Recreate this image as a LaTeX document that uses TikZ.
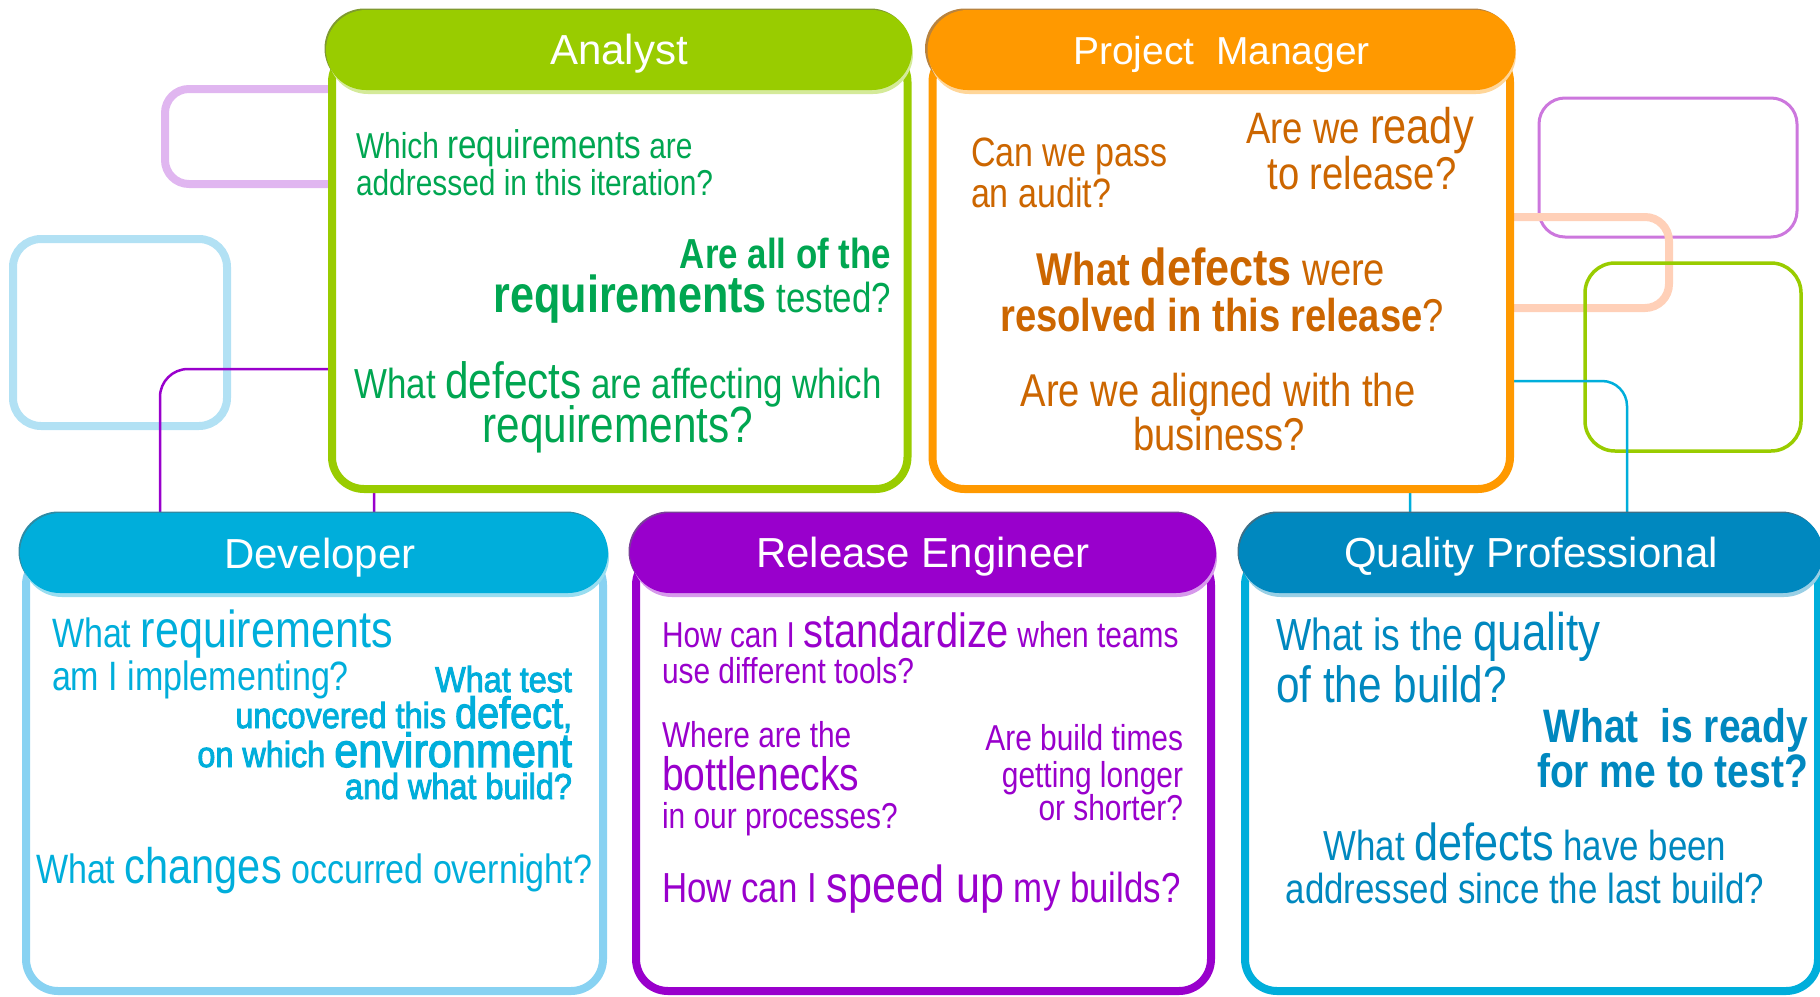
\documentclass[tikz,border=0pt]{standalone}
\usepackage{fontspec}
\setmainfont{Liberation Sans}
\newfontfamily\cnd[FakeStretch=0.83]{Liberation Sans}
\newfontfamily\cndsb[FakeStretch=0.9,FakeBold=2.5]{Liberation Sans}
\newcommand\fsz[1]{\fontsize{#1}{#1}\selectfont}
\definecolor{agreen}{HTML}{99CC00}
\definecolor{agreenD}{HTML}{7F9A30}
\definecolor{agreenL}{HTML}{D4EA99}
\definecolor{atext}{HTML}{00A651}
\definecolor{porange}{HTML}{FF9900}
\definecolor{porangeD}{HTML}{B8833F}
\definecolor{porangeL}{HTML}{FFD699}
\definecolor{ptext}{HTML}{CC6600}
\definecolor{dcyan}{HTML}{00AEDB}
\definecolor{dcyanD}{HTML}{2F8AA3}
\definecolor{dcyanL}{HTML}{99DDF0}
\definecolor{dborder}{HTML}{88D2F2}
\definecolor{rpurple}{HTML}{9900CC}
\definecolor{rpurpleD}{HTML}{7A3F99}
\definecolor{rpurpleL}{HTML}{D699EB}
\definecolor{qblue}{HTML}{0088BF}
\definecolor{qblueD}{HTML}{3C6F87}
\definecolor{qblueL}{HTML}{99CFE5}
\definecolor{meshlav}{HTML}{E0B6F0}
\definecolor{meshblue}{HTML}{B2E1F4}
\definecolor{meshpeach}{HTML}{FFD0B8}
\definecolor{thinlav}{HTML}{CC77DD}
\tikzset{
  tl/.style={inner sep=0pt, outer sep=0pt, font=\cnd\fsz{#1}},
  hdr/.style={inner sep=0pt, outer sep=0pt, font=\fsz{42}, text=white,
    minimum height=80pt, rounded corners=40pt, text height=28pt, text depth=0pt},
  border/.style={line width=8pt, fill=white, rounded corners=32pt},
  meshline/.style={line width=8pt, rounded corners=24pt},
  thinline/.style={line width=3pt, rounded corners=26pt},
  linkline/.style={line width=2.5pt, rounded corners=28pt},
}
\begin{document}
\begin{tikzpicture}[x=1pt,y=-1pt]
\useasboundingbox (0,0) rectangle (1820,996);

% decorative background frames
\draw[meshline, draw=meshlav] (165,89) rectangle (420,184);
\draw[meshline, draw=meshblue, rounded corners=28pt] (13,239) rectangle (227,426);
\draw[thinline, draw=thinlav] (1539,98) rectangle (1797,237);
\draw[meshline, draw=meshpeach] (1440,217) rectangle (1669,308);
\draw[thinline, draw=agreen, line width=3.5pt, rounded corners=30pt] (1585,263) rectangle (1801,451);
\draw[linkline, draw=rpurple] (160,369) rectangle (374,600);
\draw[linkline, draw=dcyan, rounded corners=25pt] (1410,381) rectangle (1627,600);

% Analyst
\draw[border, draw=agreen] (332,50) rectangle (907.5,489);
\fill[agreenD, rounded corners=40pt] (324.5,8.5) rectangle (910.5,88.5);
\fill[agreenL, rounded corners=40pt] (328,14) rectangle (913,94);
\node[hdr, fill=agreen, minimum width=586pt] (hA) at (619,50) {Analyst};

% Project Manager
\draw[border, draw=porange] (932.5,50) rectangle (1510,489);
\fill[porangeD, rounded corners=40pt] (925,8.5) rectangle (1513.5,88.5);
\fill[porangeL, rounded corners=40pt] (929,14) rectangle (1516,94);
\node[hdr, fill=porange, minimum width=588pt, font=\fsz{39}] (hP) at (1221.5,50) {Project\ \ Manager};

% Developer
\draw[border, draw=dborder] (26,553) rectangle (603,991);
\fill[dcyanD, rounded corners=40pt] (18.5,511.5) rectangle (606.5,591.5);
\fill[dcyanL, rounded corners=40pt] (22,517) rectangle (609,597);
\node[hdr, fill=dcyan, minimum width=588pt] (hD) at (314,553) {};
\node[inner sep=0pt, font=\fsz{42}, text=white, anchor=base] (tD) at (320,568) {Developer};

% Release Engineer
\draw[border, draw=rpurple] (636,553) rectangle (1211,991);
\fill[rpurpleD, rounded corners=40pt] (628.5,511.5) rectangle (1214.5,591.5);
\fill[rpurpleL, rounded corners=40pt] (632,517) rectangle (1217,597);
\node[hdr, fill=rpurple, minimum width=586pt] (hR) at (923,553) {Release Engineer};

% Quality Professional
\draw[border, draw=dcyan] (1245,553) rectangle (1818,991);
\fill[qblueD, rounded corners=40pt] (1237.5,511.5) rectangle (1821.5,591.5);
\fill[qblueL, rounded corners=40pt] (1241,517) rectangle (1824,597);
\node[hdr, fill=qblue, minimum width=584pt] (hQ) at (1531,553) {Quality Professional};

% Analyst texts
\node[tl=36, text=atext, anchor=base west] (a1) at (356,158) {Which {\fsz{40}requirements} are};
\node[tl=36, text=atext, anchor=base west] (a2) at (356,195) {addressed in this iteration?};
\node[tl=42, text=atext, anchor=base east] (a3) at (891,268) {\bfseries Are all of the};
\node[tl=42, text=atext, anchor=base east] (a4) at (891,312) {{\bfseries\fsz{52}requirements} tested?};
\node[tl=42, text=atext, anchor=base] (a5) at (618,398) {What {\fsz{51}defects} are affecting which};
\node[tl=51, text=atext, anchor=base] (a6) at (618,442) {requirements?};

% Project Manager texts
\node[tl=41, text=ptext, anchor=base west] (p1) at (971,166) {Can we pass};
\node[tl=41, text=ptext, anchor=base west] (p2) at (971,207) {an audit?};
\node[tl=44, text=ptext, anchor=base] (p3) at (1360,143) {Are we {\fsz{50}ready}};
\node[tl=46, text=ptext, anchor=base] (p4) at (1362,189) {to release?};
\node[tl=46, text=ptext, anchor=base] (p5) at (1211,285) {{\bfseries What {\fsz{52}defects}} were};
\node[tl=46, text=ptext, anchor=base] (p6) at (1222,331) {{\bfseries resolved in this release}?};
\node[tl=46, text=ptext, anchor=base] (p7) at (1218,406) {Are we aligned with the};
\node[tl=46, text=ptext, anchor=base] (p8) at (1219,450) {business?};

% Developer texts
\node[tl=41, text=dcyan, anchor=base west] (d1) at (52,647) {What {\fsz{52}requirements}};
\node[tl=41, text=dcyan, anchor=base west] (d2) at (52,690) {am I implementing?};
\node[tl=36, text=dcyan, anchor=base east] (d3) at (572,692) {\cndsb What test};
\node[tl=36, text=dcyan, anchor=base east] (d4) at (572,728) {\cndsb uncovered this {\fsz{44}defect},};
\node[tl=36, text=dcyan, anchor=base east] (d5) at (572,767) {\cndsb on which {\fsz{48}environment}};
\node[tl=36, text=dcyan, anchor=base east] (d6) at (572,799) {\cndsb and what build?};
\node[tl=41, text=dcyan, anchor=base west] (d7) at (36,883) {What {\fsz{50}changes} occurred overnight?};

% Release Engineer texts
\node[tl=36, text=rpurple, anchor=base west] (r1) at (662,647) {How can I {\fsz{48}standardize} when teams};
\node[tl=36, text=rpurple, anchor=base west] (r2) at (662,683) {use different tools?};
\node[tl=36, text=rpurple, anchor=base west] (r3) at (662,747) {Where are the};
\node[tl=47, text=rpurple, anchor=base west] (r4) at (662,790) {bottlenecks};
\node[tl=36, text=rpurple, anchor=base west] (r5) at (662,828) {in our processes?};
\node[tl=36, text=rpurple, anchor=base east] (r6) at (1183,750) {Are build times};
\node[tl=36, text=rpurple, anchor=base east] (r7) at (1183,787) {getting longer};
\node[tl=36, text=rpurple, anchor=base east] (r8) at (1183,820) {or shorter?};
\node[tl=42, text=rpurple, anchor=base west] (r9) at (662,902) {How can I {\fsz{52}speed up} my builds?};

% Quality Professional texts
\node[tl=45, text=qblue, anchor=base west] (q1) at (1276,650) {What is the {\fsz{53}quality}};
\node[tl=51, text=qblue, anchor=base west] (q2) at (1276,702) {of the build?};
\node[tl=47, text=qblue, anchor=base east] (q3) at (1808,742) {\bfseries What\ \ is ready};
\node[tl=47, text=qblue, anchor=base east] (q4) at (1808,787) {\bfseries for me to test?};
\node[tl=42, text=qblue, anchor=base] (q5) at (1525,860) {What {\fsz{52}defects} have been};
\node[tl=42, text=qblue, anchor=base] (q6) at (1525,903) {addressed since the last build?};
\end{tikzpicture}
\end{document}
